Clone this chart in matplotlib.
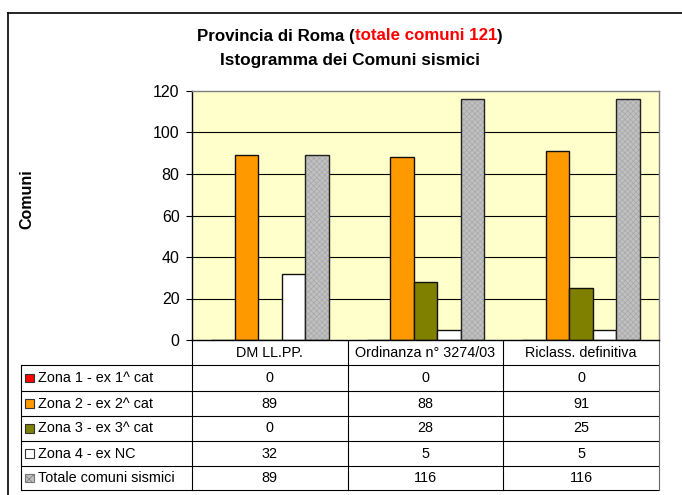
import numpy as np
import matplotlib
matplotlib.use("Agg")
import matplotlib.pyplot as plt
from matplotlib.patches import Rectangle

plt.rcParams['font.family'] = ['Liberation Sans', 'DejaVu Sans']

categories = ["DM LL.PP.", "Ordinanza n° 3274/03", "Riclass. definitiva"]
series_names = ["Zona 1 - ex 1^ cat", "Zona 2 - ex 2^ cat", "Zona 3 - ex 3^ cat",
                "Zona 4 - ex NC", "Totale comuni sismici"]
zona1 = [0, 0, 0]
zona2 = [89, 88, 91]
zona3 = [0, 28, 25]
zona4 = [32, 5, 5]
totale = [89, 116, 116]
yticks = [0, 20, 40, 60, 80, 100, 120]

series = [zona1, zona2, zona3, zona4, totale]
colors = ["#FF0000", "#FF9900", "#808000", "#FFFFFF", "#C0C0C0"]

W, H = 682, 495
fig = plt.figure(figsize=(W / 100, H / 100), dpi=100)

# overlay in pixel coordinates for the table and frame
ov = fig.add_axes([0, 0, 1, 1], zorder=0)
ov.set_xlim(0, W)
ov.set_ylim(H, 0)
ov.axis("off")

L, R, T, B = 192, 659, 91, 340
ax = fig.add_axes([L / W, 1 - B / H, (R - L) / W, (B - T) / H], zorder=1)
ax.set_facecolor("#FFFFCC")
ax.set_xlim(-0.5, 2.5)
ax.set_ylim(0, 120)
ax.set_yticks(yticks)
ax.set_yticklabels([str(v) for v in yticks], fontsize=11.5)
ax.set_xticks([])
ax.tick_params(axis="y", length=4, width=0.8, direction="out", pad=5)
for y in yticks[1:-1]:
    ax.axhline(y, color="black", lw=0.8, zorder=1)
ax.spines["top"].set_color("#808080")
ax.spines["right"].set_color("#808080")
ax.spines["left"].set_color("black")
ax.spines["bottom"].set_color("black")
for s in ax.spines.values():
    s.set_linewidth(1.0)

x = np.arange(len(categories))
bw = 0.151
plt.rcParams['hatch.linewidth'] = 0.5
for i, (vals, col) in enumerate(zip(series, colors)):
    xs = x + (i - 2) * bw
    if i == 4:
        ax.bar(xs, vals, bw, color=col, hatch="xxxxxx", edgecolor="#A8A8A8",
               linewidth=0, zorder=2)
        ax.bar(xs, vals, bw, fill=False, edgecolor="#222222", linewidth=1.0, zorder=3)
    else:
        ax.bar(xs, vals, bw, color=col, edgecolor="#111111", linewidth=1.0, zorder=2)

# data table (drawn in pixel overlay)
lab_left = 20.7
row_tops = [365, 390.5, 415.5, 440.5, 465.5, 490]
colw = (R - L) / len(categories)
col_edges = [L + colw * k for k in range(len(categories) + 1)]
lw = 0.8
fs = 10.4
for yy in row_tops:
    ov.plot([lab_left, R], [yy, yy], color="black", lw=lw, solid_capstyle="butt")
ov.plot([lab_left, lab_left], [row_tops[0], row_tops[-1]], color="black", lw=lw)
for k, xe in enumerate(col_edges):
    ov.plot([xe, xe], [B, row_tops[-1]], color="#666666" if k == len(col_edges) - 1 else "black",
            lw=lw)
for k, cat in enumerate(categories):
    ov.text((col_edges[k] + col_edges[k + 1]) / 2, (B + row_tops[0]) / 2 + 0.5, cat,
            ha="center", va="center", fontsize=fs)
for i, (name, vals, col) in enumerate(zip(series_names, series, colors)):
    cy = (row_tops[i] + row_tops[i + 1]) / 2 + 0.5
    ov.text(38.5, cy, name, ha="left", va="center", fontsize=fs)
    for k, v in enumerate(vals):
        ov.text((col_edges[k] + col_edges[k + 1]) / 2, cy, str(v),
                ha="center", va="center", fontsize=fs)
    ov.add_patch(Rectangle((25, cy - 4.5), 8.5, 8.5, facecolor=col,
                           edgecolor="#333333" if i != 4 else "#777777", lw=0.8,
                           hatch="xxxx" if i == 4 else None))

# axis title
fig.text(27 / W, 1 - 199 / H, "Comuni", rotation=90, fontsize=11.5,
         fontweight="bold", ha="center", va="center")

# chart title
fig.canvas.draw()
rend = fig.canvas.get_renderer()
parts = [("Provincia di Roma (", "black"), ("totale comuni 121", "#FF0000"), (")", "black")]
texts = []
widths = []
for s, c in parts:
    t = fig.text(0, 1 - 36 / H, s, color=c, fontsize=12.2, fontweight="bold",
                 ha="left", va="center")
    widths.append(t.get_window_extent(rend).width)
    texts.append(t)
total = sum(widths)
x0 = 350 - total / 2
for t, w in zip(texts, widths):
    t.set_x(x0 / W)
    x0 += w
fig.text(350 / W, 1 - 61 / H, "Istogramma dei Comuni sismici", fontsize=12.4,
         fontweight="bold", ha="center", va="center")

# outer frame
ov.plot([8, 8], [13, H + 2], color="black", lw=1.2, clip_on=False)
ov.plot([8, W + 2], [13, 13], color="black", lw=1.2, clip_on=False)

fig.savefig("out.png", dpi=100)
